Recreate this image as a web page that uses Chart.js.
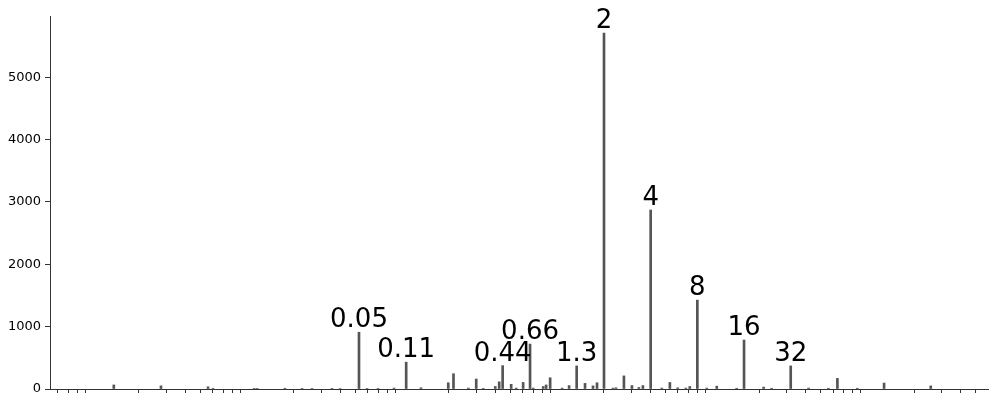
<!DOCTYPE html>
<html>
<head>
<meta charset="utf-8">
<script src="https://cdn.jsdelivr.net/npm/chart.js@4.4.0/dist/chart.umd.min.js"></script>
<style>
  html, body { margin: 0; padding: 0; background: #fff; }
  canvas { display: block; }
</style>
</head>
<body>
<canvas id="c" width="996" height="405"></canvas>
<script>
// bin positions (log x axis) and their counts
const binX = [
  0.00138, 0.00278, 0.00559, 0.00602, 0.0111, 0.0116, 0.0175, 0.0226, 0.0262, 0.0352,
  0.0397, 0.0526, 0.0593, 0.0698, 0.0885, 0.106, 0.132, 0.198, 0.214, 0.267,
  0.300, 0.333, 0.398, 0.422, 0.444, 0.504, 0.543, 0.602, 0.667, 0.699,
  0.811, 0.847, 0.899, 1.074, 1.191, 1.333, 1.509, 1.699, 1.803, 2,
  2.285, 2.389, 2.689, 3.028, 3.358, 3.564, 4, 4.72, 5.32, 5.98,
  6.74, 7.15, 8, 9.20, 10.67, 14.34, 16, 21.4, 24.1, 32,
  41.7, 56.0, 64, 86.0, 128, 256,
];
const counts = [
  65, 50, 35, 10, 10, 10, 12, 6, 10, 10,
  8, 910, 10, 6, 15, 430, 20, 100, 245, 15,
  160, 10, 40, 115, 375, 75, 15, 105, 720, 15,
  40, 65, 180, 15, 55, 370, 90, 50, 100, 5705,
  15, 20, 210, 55, 25, 55, 2870, 15, 105, 20,
  15, 40, 1425, 15, 45, 12, 785, 30, 12, 370,
  15, 12, 170, 12, 95, 50,
];

// annotated peaks
const peakX = [0.0526, 0.106, 0.444, 0.667, 1.333, 2, 4, 8, 16, 32];
const peakText = ["0.05", "0.11", "0.44", "0.66", "1.3", "2", "4", "8", "16", "32"];

// ticks
const yTicks = [0, 1000, 2000, 3000, 4000, 5000];
const xMinorTicks = [
  0.0006, 0.0007, 0.0008, 0.0009,
  0.002, 0.003, 0.004, 0.005, 0.006, 0.007, 0.008, 0.009,
  0.02, 0.03, 0.04, 0.05, 0.06, 0.07, 0.08, 0.09,
  0.2, 0.3, 0.4, 0.5, 0.6, 0.7, 0.8, 0.9,
  2, 3, 4, 5, 6, 7, 8, 9,
  20, 30, 40, 50, 60, 70, 80, 90,
  200, 300, 400, 500,
];

Chart.defaults.font.family = "'DejaVu Sans', sans-serif";
Chart.defaults.font.size = 13;
Chart.defaults.color = "#000";

const axisColor = "#333";

const peakLabels = {
  id: "peak_labels",
  afterDatasetsDraw(chart) {
    const { ctx, scales } = chart;
    ctx.save();
    ctx.font = "26px 'DejaVu Sans', sans-serif";
    ctx.fillStyle = "#000";
    ctx.textAlign = "center";
    ctx.textBaseline = "alphabetic";
    peakX.forEach((v, i) => {
      const n = counts[binX.indexOf(v)];
      const px = scales.x.getPixelForValue(v);
      const py = scales.y.getPixelForValue(n);
      ctx.fillText(peakText[i], px, py - 5);
    });
    ctx.restore();
  },
};

new Chart(document.getElementById("c"), {
  type: "bar",
  data: {
    datasets: [{
      data: binX.map((x, i) => ({ x, y: counts[i] })),
      backgroundColor: "#555555",
      borderWidth: 0,
      barThickness: 2,
    }],
  },
  options: {
    responsive: false,
    animation: false,
    devicePixelRatio: 1,
    layout: { padding: { top: 16, right: 8, left: 0, bottom: 0 } },
    plugins: {
      legend: { display: false },
      tooltip: { enabled: false },
    },
    scales: {
      x: {
        type: "logarithmic",
        min: 0.000535,
        max: 599,
        offset: false,
        grid: {
          offset: false,
          drawOnChartArea: false,
          drawTicks: true,
          tickLength: 4,
          color: axisColor,
        },
        border: { display: true, color: axisColor, width: 1 },
        ticks: { display: false },
        afterBuildTicks: (s) => { s.ticks = xMinorTicks.map((v) => ({ value: v })); },
        afterFit: (s) => { s.height = 16; },
      },
      y: {
        min: 0,
        max: 5980,
        grid: {
          drawOnChartArea: false,
          drawTicks: true,
          tickLength: 5,
          color: axisColor,
        },
        border: { display: true, color: axisColor, width: 1 },
        ticks: {
          padding: 4,
          color: "#000",
          font: { size: 13 },
          callback: (v) => String(v),
        },
        afterBuildTicks: (s) => { s.ticks = yTicks.map((v) => ({ value: v })); },
        afterFit: (s) => { s.width = 50; },
      },
    },
  },
  plugins: [peakLabels],
});
</script>
</body>
</html>
